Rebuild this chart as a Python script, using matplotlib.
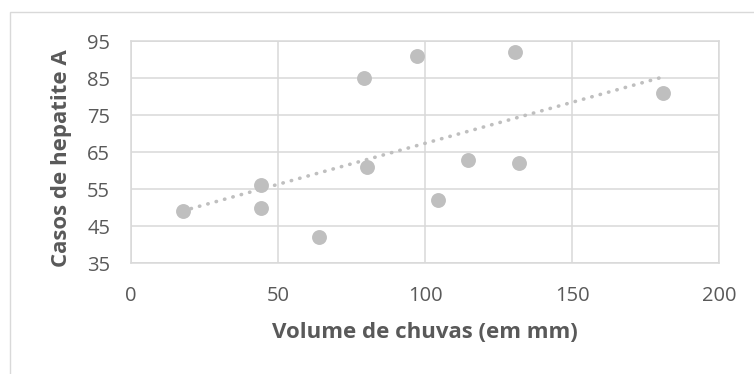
import matplotlib
matplotlib.use("Agg")
import matplotlib.pyplot as plt
import numpy as np
from matplotlib.patches import Rectangle

rain_mm = [17.6, 44.1, 44.3, 64.0, 79.4, 80.2, 97.2, 104.3, 114.5, 130.6, 132.1, 180.8]
hep_cases = [49, 56, 50, 42, 85, 61, 91, 52, 63, 92, 62, 81]
x_ticks = [0, 50, 100, 150, 200]
y_ticks = [35, 45, 55, 65, 75, 85, 95]

plt.rcParams['font.family'] = ['Open Sans', 'DejaVu Sans']

fig = plt.figure(figsize=(7.54, 3.74), dpi=100)
fig.patch.set_facecolor('white')
# outer chart frame
fig.patches.append(Rectangle((10/754, -0.1), 1.2, 1 - 12/374 + 0.1, transform=fig.transFigure,
                             fill=False, edgecolor='#d9d9d9', linewidth=1.0))

ax_h = 263.3 - 41
ax_w = 719 - 131
ax = fig.add_axes([131/754, 1 - 263.3/374, ax_w/754, ax_h/374])
grid_c = '#d9d9d9'
ax.set_xlim(0, 200)
ax.set_ylim(35, 95)
ax.set_xticks(x_ticks)
ax.set_yticks(y_ticks)
ax.grid(True, color=grid_c, linewidth=1.1)
ax.set_axisbelow(True)
for s in ax.spines.values():
    s.set_color(grid_c)
    s.set_linewidth(1.1)
ax.tick_params(length=0, labelsize=14.5, labelcolor='#595959')
ax.tick_params(axis='x', pad=16)
ax.tick_params(axis='y', pad=15)

ax.scatter(rain_mm, hep_cases, s=115, color='#bfbfbf', zorder=3, linewidths=0)

coef = np.polyfit(rain_mm, hep_cases, 1)
xs = np.array([min(rain_mm), max(rain_mm)])
ax.plot(xs, np.polyval(coef, xs), linestyle=(0, (0.1, 2.3)), dash_capstyle='round',
        color='#bfbfbf', linewidth=2.6, zorder=2)

ax.set_xlabel('Volume de chuvas (em mm)', fontsize=16, fontweight='bold', color='#595959',
              va='center')
ax.xaxis.set_label_coords(0.5, (263.3 - 332) / ax_h)
ax.set_ylabel('Casos de hepatite A', fontsize=16, fontweight='bold', color='#595959',
              va='center')
ax.yaxis.set_label_coords((62 - 131) / ax_w, (263.3 - 158) / ax_h)

fig.savefig('out.png', dpi=100, facecolor='white')
